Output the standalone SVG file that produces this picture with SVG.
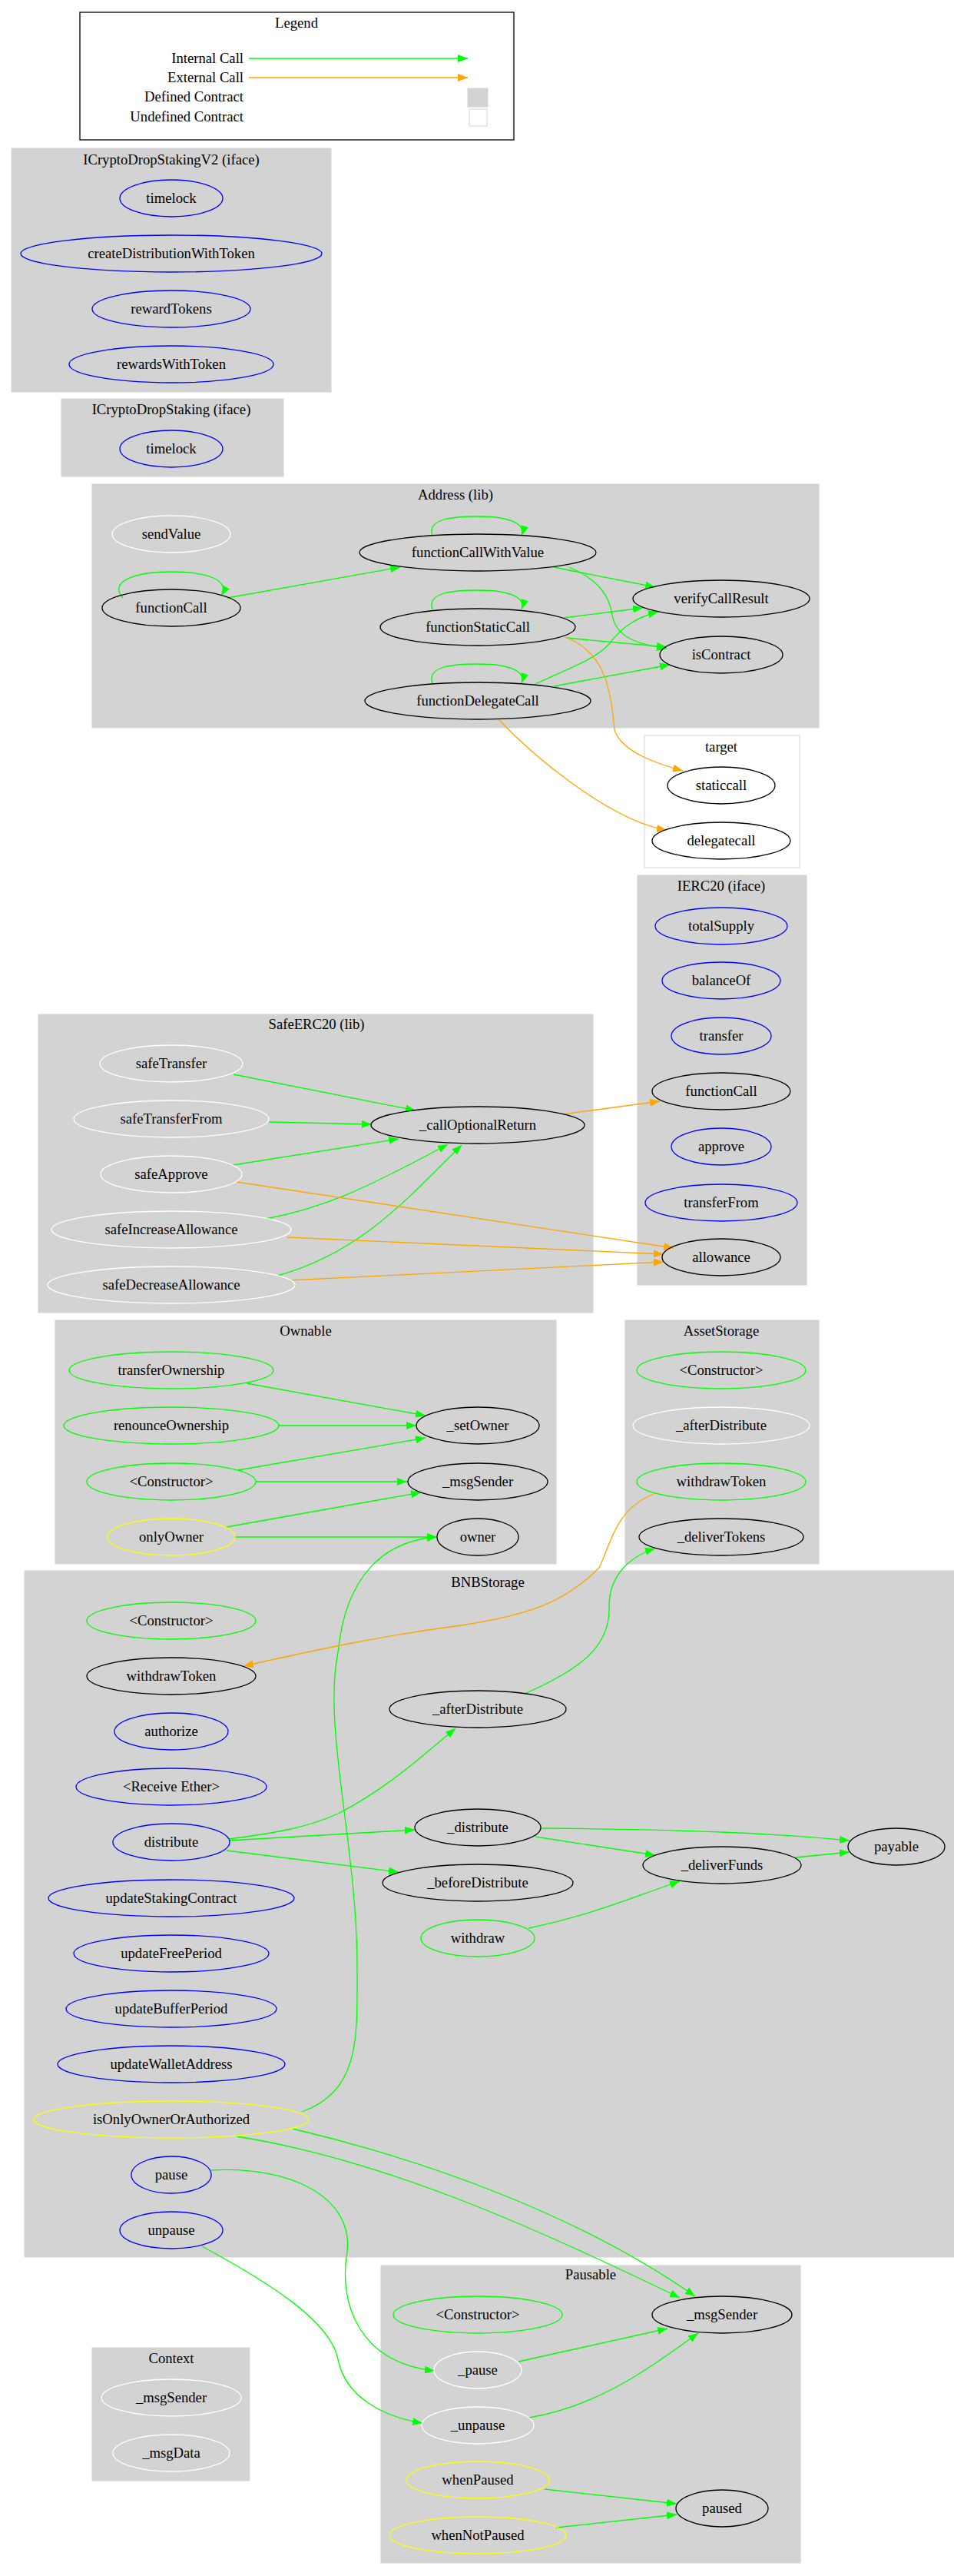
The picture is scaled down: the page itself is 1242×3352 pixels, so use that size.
<svg xmlns="http://www.w3.org/2000/svg" width="1242" height="3352" viewBox="0 0 1242 3352">
<style>
text{font-family:"Liberation Serif","Times New Roman",serif;font-size:18.67px;text-anchor:middle;fill:#000}
.cl{fill:#d3d3d3;stroke:#d3d3d3}
.und{fill:#fff;stroke:#d3d3d3}
ellipse{fill:none;stroke-width:1.3}
.b{stroke:#0000ff}.k{stroke:#000}.g{stroke:#00ff00}.w{stroke:#fff}.y{stroke:#ffff00}
.ei{fill:none;stroke:#00ff00;stroke-width:1.3;marker-end:url(#ag)}
.ee{fill:none;stroke:#ffa500;stroke-width:1.3;marker-end:url(#ao)}
</style>
<defs>
<marker id="ag" markerUnits="userSpaceOnUse" markerWidth="14" markerHeight="10" refX="13" refY="5" orient="auto"><path d="M0,0L13,5L0,10z" fill="#00ff00"/></marker>
<marker id="ao" markerUnits="userSpaceOnUse" markerWidth="14" markerHeight="10" refX="13" refY="5" orient="auto"><path d="M0,0L13,5L0,10z" fill="#ffa500"/></marker>
</defs>
<rect width="1242" height="3352" fill="#fff"/>
<g id="legend">
<rect x="104" y="16" width="565" height="166" fill="#fff" stroke="#000" stroke-width="1.3"/>
<text x="386" y="36">Legend</text>
<text x="317" y="82" style="text-anchor:end">Internal Call</text>
<text x="317" y="107" style="text-anchor:end">External Call</text>
<text x="317" y="132" style="text-anchor:end">Defined Contract</text>
<text x="317" y="158" style="text-anchor:end">Undefined Contract</text>
<path class="ei" d="M324,76H609"/>
<path class="ee" d="M324,101H609"/>
<rect x="609" y="115" width="26" height="24" class="cl"/>
<rect x="611" y="142" width="23" height="22" class="und"/>
</g>
<g id="clusters">
<rect class="cl" x="15" y="193" width="416" height="317"/><text x="223" y="214">ICryptoDropStakingV2  (iface)</text>
<rect class="cl" x="80" y="519" width="289" height="101"/><text x="223" y="539">ICryptoDropStaking  (iface)</text>
<rect class="cl" x="120" y="630" width="946" height="317"/><text x="593" y="650">Address  (lib)</text>
<rect class="und" x="839" y="957" width="202" height="172"/><text x="939" y="978">target</text>
<rect class="cl" x="830" y="1139" width="220" height="533"/><text x="939" y="1159">IERC20  (iface)</text>
<rect class="cl" x="50" y="1320" width="722" height="388"/><text x="412" y="1339">SafeERC20  (lib)</text>
<rect class="cl" x="72" y="1718" width="652" height="317"/><text x="398" y="1738">Ownable</text>
<rect class="cl" x="814" y="1718" width="252" height="317"/><text x="939" y="1738">AssetStorage</text>
<rect class="cl" x="32" y="2044" width="1210" height="893"/><text x="635" y="2065">BNBStorage</text>
<rect class="cl" x="496" y="2948" width="546" height="387"/><text x="769" y="2966">Pausable</text>
<rect class="cl" x="120" y="3055" width="205" height="173"/><text x="223" y="3075">Context</text>
</g>
<g id="connectors">
<path class="ei" d="M563,697C555,675 590,672 622,672C660,672 685,680 679,697"/>
<path class="ei" d="M160,778C140,755 180,744 223,744C270,744 300,755 288,775"/>
<path class="ei" d="M563,793C555,771 590,768 622,768C660,768 685,776 679,793"/>
<path class="ei" d="M563,889C555,867 590,864 622,864C660,864 685,872 679,889"/>
<path class="ei" d="M296,778L521,738"/>
<path class="ei" d="M721,738L853,764"/>
<path class="ei" d="M741,738C780,755 793,775 797,800C802,830 830,838 868,844"/>
<path class="ei" d="M733,804L837,791"/>
<path class="ei" d="M737,830L868,842"/>
<path class="ei" d="M695,891C740,870 775,858 793,838C810,815 830,803 857,796"/>
<path class="ei" d="M721,893L872,865"/>
<path class="ee" d="M736,829C790,850 795,900 800,950C810,980 860,995 889,1003"/>
<path class="ee" d="M649,936C700,990 800,1070 868,1080"/>
<path class="ei" d="M304,1398L541,1445"/>
<path class="ei" d="M350,1460L484,1463"/>
<path class="ei" d="M303,1516L519,1482"/>
<path class="ei" d="M346,1586C420,1572 470,1550 583,1489"/>
<path class="ei" d="M361,1660C470,1630 530,1560 601,1490"/>
<path class="ee" d="M308,1538L877,1624"/>
<path class="ee" d="M374,1610L864,1632"/>
<path class="ee" d="M377,1666L864,1642"/>
<path class="ee" d="M732,1450L859,1433"/>
<path class="ei" d="M321,1800L554,1842"/>
<path class="ei" d="M363,1855L542,1855"/>
<path class="ei" d="M310,1913L554,1871"/>
<path class="ei" d="M333,1928L530,1928"/>
<path class="ei" d="M295,1987L548,1942"/>
<path class="ei" d="M305,2000L569,2000"/>
<path class="ei" d="M393,2748C470,2720 465,2650 465,2560C465,2400 420,2250 440,2150C450,2050 500,2005 569,2000"/>
<path class="ee" d="M851,1944C800,1965 795,2010 780,2040C740,2080 700,2100 600,2115C500,2128 420,2145 317,2168"/>
<path class="ei" d="M685,2203C760,2170 795,2140 793,2090C793,2050 820,2025 853,2015"/>
<path class="ei" d="M298,2393C360,2385 400,2378 440,2360C500,2330 550,2285 593,2249"/>
<path class="ei" d="M298,2395L540,2381"/>
<path class="ei" d="M295,2408L519,2436"/>
<path class="ei" d="M705,2379C900,2381 1000,2385 1106,2395"/>
<path class="ei" d="M697,2390L853,2414"/>
<path class="ei" d="M1035,2417L1106,2410"/>
<path class="ei" d="M688,2509C770,2492 820,2470 885,2448"/>
<path class="ei" d="M381,2770C550,2810 750,2880 905,2988"/>
<path class="ei" d="M308,2780C500,2810 700,2900 885,2990"/>
<path class="ei" d="M275,2824C380,2818 460,2860 452,2930C440,3000 470,3075 566,3085"/>
<path class="ei" d="M263,2923C350,2970 430,3020 440,3070C450,3120 500,3145 550,3153"/>
<path class="ei" d="M675,3073L869,3030"/>
<path class="ei" d="M689,3146C780,3130 840,3085 909,3036"/>
<path class="ei" d="M709,3239L881,3258"/>
<path class="ei" d="M724,3289L881,3272"/>
</g>
<g id="n_v2_timelock"><ellipse class="b" cx="223" cy="258" rx="67" ry="24"/><text x="223" y="264">timelock</text></g>
<g id="n_v2_create"><ellipse class="b" cx="223" cy="330" rx="196" ry="24"/><text x="223" y="336">createDistributionWithToken</text></g>
<g id="n_v2_rewardTokens"><ellipse class="b" cx="223" cy="402" rx="103" ry="24"/><text x="223" y="408">rewardTokens</text></g>
<g id="n_v2_rewardsWithToken"><ellipse class="b" cx="223" cy="474" rx="133" ry="24"/><text x="223" y="480">rewardsWithToken</text></g>
<g id="n_v1_timelock"><ellipse class="b" cx="223" cy="584" rx="67" ry="24"/><text x="223" y="590">timelock</text></g>
<g id="n_addr_sendValue"><ellipse class="w" cx="223" cy="695" rx="77" ry="24"/><text x="223" y="701">sendValue</text></g>
<g id="n_addr_functionCall"><ellipse class="k" cx="223" cy="791" rx="90" ry="24"/><text x="223" y="797">functionCall</text></g>
<g id="n_addr_fcwv"><ellipse class="k" cx="622" cy="719" rx="154" ry="24"/><text x="622" y="725">functionCallWithValue</text></g>
<g id="n_addr_fsc"><ellipse class="k" cx="622" cy="816" rx="127" ry="24"/><text x="622" y="822">functionStaticCall</text></g>
<g id="n_addr_fdc"><ellipse class="k" cx="622" cy="912" rx="147" ry="24"/><text x="622" y="918">functionDelegateCall</text></g>
<g id="n_addr_vcr"><ellipse class="k" cx="939" cy="779" rx="115" ry="24"/><text x="939" y="785">verifyCallResult</text></g>
<g id="n_addr_isContract"><ellipse class="k" cx="939" cy="852" rx="80" ry="24"/><text x="939" y="858">isContract</text></g>
<g id="n_target_staticcall"><ellipse class="k" cx="939" cy="1022" rx="70" ry="24"/><text x="939" y="1028">staticcall</text></g>
<g id="n_target_delegatecall"><ellipse class="k" cx="939" cy="1094" rx="90" ry="24"/><text x="939" y="1100">delegatecall</text></g>
<g id="n_ierc_totalSupply"><ellipse class="b" cx="939" cy="1205" rx="86" ry="24"/><text x="939" y="1211">totalSupply</text></g>
<g id="n_ierc_balanceOf"><ellipse class="b" cx="939" cy="1276" rx="77" ry="24"/><text x="939" y="1282">balanceOf</text></g>
<g id="n_ierc_transfer"><ellipse class="b" cx="939" cy="1348" rx="65" ry="24"/><text x="939" y="1354">transfer</text></g>
<g id="n_ierc_functionCall"><ellipse class="k" cx="939" cy="1420" rx="90" ry="24"/><text x="939" y="1426">functionCall</text></g>
<g id="n_ierc_approve"><ellipse class="b" cx="939" cy="1492" rx="65" ry="24"/><text x="939" y="1498">approve</text></g>
<g id="n_ierc_transferFrom"><ellipse class="b" cx="939" cy="1565" rx="99" ry="24"/><text x="939" y="1571">transferFrom</text></g>
<g id="n_ierc_allowance"><ellipse class="k" cx="939" cy="1636" rx="77" ry="24"/><text x="939" y="1642">allowance</text></g>
<g id="n_s_safeTransfer"><ellipse class="w" cx="223" cy="1384" rx="93" ry="24"/><text x="223" y="1390">safeTransfer</text></g>
<g id="n_s_safeTransferFrom"><ellipse class="w" cx="223" cy="1456" rx="127" ry="24"/><text x="223" y="1462">safeTransferFrom</text></g>
<g id="n_s_safeApprove"><ellipse class="w" cx="223" cy="1528" rx="92" ry="24"/><text x="223" y="1534">safeApprove</text></g>
<g id="n_s_safeInc"><ellipse class="w" cx="223" cy="1600" rx="156" ry="24"/><text x="223" y="1606">safeIncreaseAllowance</text></g>
<g id="n_s_safeDec"><ellipse class="w" cx="223" cy="1672" rx="161" ry="24"/><text x="223" y="1678">safeDecreaseAllowance</text></g>
<g id="n_s_cor"><ellipse class="k" cx="622" cy="1464" rx="139" ry="24"/><text x="622" y="1470">_callOptionalReturn</text></g>
<g id="n_o_transferOwnership"><ellipse class="g" cx="223" cy="1783" rx="133" ry="24"/><text x="223" y="1789">transferOwnership</text></g>
<g id="n_o_renounce"><ellipse class="g" cx="223" cy="1855" rx="140" ry="24"/><text x="223" y="1861">renounceOwnership</text></g>
<g id="n_o_ctor"><ellipse class="g" cx="223" cy="1928" rx="110" ry="24"/><text x="223" y="1934">&lt;Constructor&gt;</text></g>
<g id="n_o_onlyOwner"><ellipse class="y" cx="223" cy="2000" rx="83" ry="24"/><text x="223" y="2006">onlyOwner</text></g>
<g id="n_o_setOwner"><ellipse class="k" cx="622" cy="1855" rx="80" ry="24"/><text x="622" y="1861">_setOwner</text></g>
<g id="n_o_msgSender"><ellipse class="k" cx="622" cy="1928" rx="91" ry="24"/><text x="622" y="1934">_msgSender</text></g>
<g id="n_o_owner"><ellipse class="k" cx="622" cy="2000" rx="53" ry="24"/><text x="622" y="2006">owner</text></g>
<g id="n_a_ctor"><ellipse class="g" cx="939" cy="1783" rx="110" ry="24"/><text x="939" y="1789">&lt;Constructor&gt;</text></g>
<g id="n_a_afterDistribute"><ellipse class="w" cx="939" cy="1855" rx="115" ry="24"/><text x="939" y="1861">_afterDistribute</text></g>
<g id="n_a_withdrawToken"><ellipse class="g" cx="939" cy="1928" rx="110" ry="24"/><text x="939" y="1934">withdrawToken</text></g>
<g id="n_a_deliverTokens"><ellipse class="k" cx="939" cy="2000" rx="107" ry="24"/><text x="939" y="2006">_deliverTokens</text></g>
<g id="n_b_ctor"><ellipse class="g" cx="223" cy="2109" rx="110" ry="24"/><text x="223" y="2115">&lt;Constructor&gt;</text></g>
<g id="n_b_withdrawToken"><ellipse class="k" cx="223" cy="2181" rx="110" ry="24"/><text x="223" y="2187">withdrawToken</text></g>
<g id="n_b_authorize"><ellipse class="b" cx="223" cy="2253" rx="74" ry="24"/><text x="223" y="2259">authorize</text></g>
<g id="n_b_receive"><ellipse class="b" cx="223" cy="2325" rx="124" ry="24"/><text x="223" y="2331">&lt;Receive Ether&gt;</text></g>
<g id="n_b_distribute"><ellipse class="b" cx="223" cy="2397" rx="76" ry="24"/><text x="223" y="2403">distribute</text></g>
<g id="n_b_usc"><ellipse class="b" cx="223" cy="2470" rx="160" ry="24"/><text x="223" y="2476">updateStakingContract</text></g>
<g id="n_b_ufp"><ellipse class="b" cx="223" cy="2542" rx="127" ry="24"/><text x="223" y="2548">updateFreePeriod</text></g>
<g id="n_b_ubp"><ellipse class="b" cx="223" cy="2614" rx="137" ry="24"/><text x="223" y="2620">updateBufferPeriod</text></g>
<g id="n_b_uwa"><ellipse class="b" cx="223" cy="2686" rx="148" ry="24"/><text x="223" y="2692">updateWalletAddress</text></g>
<g id="n_b_ioo"><ellipse class="y" cx="223" cy="2758" rx="179" ry="24"/><text x="223" y="2764">isOnlyOwnerOrAuthorized</text></g>
<g id="n_b_pause"><ellipse class="b" cx="223" cy="2830" rx="52" ry="24"/><text x="223" y="2836">pause</text></g>
<g id="n_b_unpause"><ellipse class="b" cx="223" cy="2902" rx="67" ry="24"/><text x="223" y="2908">unpause</text></g>
<g id="n_b_afterDistribute"><ellipse class="k" cx="622" cy="2224" rx="115" ry="24"/><text x="622" y="2230">_afterDistribute</text></g>
<g id="n_b__distribute"><ellipse class="k" cx="622" cy="2378" rx="82" ry="24"/><text x="622" y="2384">_distribute</text></g>
<g id="n_b_beforeDistribute"><ellipse class="k" cx="622" cy="2450" rx="124" ry="24"/><text x="622" y="2456">_beforeDistribute</text></g>
<g id="n_b_withdraw"><ellipse class="g" cx="622" cy="2522" rx="74" ry="24"/><text x="622" y="2528">withdraw</text></g>
<g id="n_b_deliverFunds"><ellipse class="k" cx="940" cy="2427" rx="103" ry="24"/><text x="940" y="2433">_deliverFunds</text></g>
<g id="n_b_payable"><ellipse class="k" cx="1167" cy="2403" rx="63" ry="24"/><text x="1167" y="2409">payable</text></g>
<g id="n_p_ctor"><ellipse class="g" cx="622" cy="3012" rx="110" ry="24"/><text x="622" y="3018">&lt;Constructor&gt;</text></g>
<g id="n_p__pause"><ellipse class="w" cx="622" cy="3084" rx="57" ry="24"/><text x="622" y="3090">_pause</text></g>
<g id="n_p__unpause"><ellipse class="w" cx="622" cy="3156" rx="73" ry="24"/><text x="622" y="3162">_unpause</text></g>
<g id="n_p_whenPaused"><ellipse class="y" cx="622" cy="3227" rx="93" ry="24"/><text x="622" y="3233">whenPaused</text></g>
<g id="n_p_whenNotPaused"><ellipse class="y" cx="622" cy="3299" rx="115" ry="24"/><text x="622" y="3305">whenNotPaused</text></g>
<g id="n_p_msgSender"><ellipse class="k" cx="940" cy="3012" rx="91" ry="24"/><text x="940" y="3018">_msgSender</text></g>
<g id="n_p_paused"><ellipse class="k" cx="940" cy="3264" rx="60" ry="24"/><text x="940" y="3270">paused</text></g>
<g id="n_c_msgSender"><ellipse class="w" cx="223" cy="3120" rx="91" ry="24"/><text x="223" y="3126">_msgSender</text></g>
<g id="n_c_msgData"><ellipse class="w" cx="223" cy="3192" rx="76" ry="24"/><text x="223" y="3198">_msgData</text></g>
</svg>
